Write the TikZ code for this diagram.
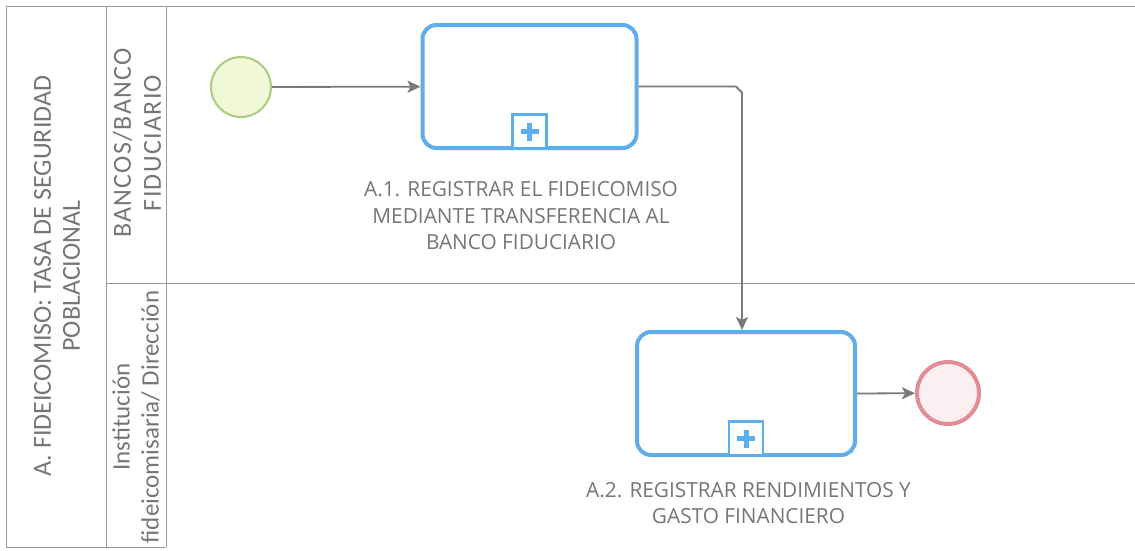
\documentclass[tikz,border=0pt]{standalone}
\usepackage{fontspec}
\setmainfont{Open Sans}
\newfontfamily\calfont{Carlito}
\newfontfamily\calwide[LetterSpace=5]{Carlito}
\usetikzlibrary{arrows.meta,calc}
\definecolor{taskblue}{HTML}{5DAEEA}
\definecolor{txtgray}{HTML}{767676}
\definecolor{linegray}{HTML}{7A7A7A}
\definecolor{framegray}{HTML}{9A9A9A}
\definecolor{startfill}{HTML}{F1F8D8}
\definecolor{startdraw}{HTML}{A9CC80}
\definecolor{endfill}{HTML}{FCEFF2}
\definecolor{enddraw}{HTML}{E28C93}
\tikzset{
  task/.style={draw=taskblue, line width=4pt, rounded corners=14pt, fill=white, inner sep=0pt},
  marker/.style={draw=taskblue, line width=2.6pt, fill=white, minimum width=34pt, minimum height=34pt, inner sep=0pt},
  startev/.style={circle, draw=startdraw, line width=2pt, fill=startfill, minimum size=60pt, inner sep=0pt},
  endev/.style={circle, draw=enddraw, line width=4pt, fill=endfill, minimum size=62pt, inner sep=0pt},
  flow/.style={draw=linegray, line width=1.8pt, -{Stealth[length=13pt,width=12pt,inset=3pt]}},
  frame/.style={draw=framegray, line width=1pt},
  lbl/.style={text=txtgray, font=\fontsize{20.8}{26.5}\selectfont, align=center},
  poollbl/.style={text=txtgray, font=\calfont\fontsize{26}{29}\selectfont, align=center, rotate=90},
  lanelbl/.style={text=txtgray, font=\calfont\fontsize{25}{29}\selectfont, align=center, rotate=90},
  lanecaps/.style={text=txtgray, font=\calwide\fontsize{26}{30}\selectfont, align=center, rotate=90}
}
\begin{document}
\begin{tikzpicture}[x=1pt,y=-1pt]
\useasboundingbox[fill=white] (0,0) rectangle (1135,550);
% frame
\draw[frame] (1135,6) -- (6,6) -- (6,547) -- (166,547);
\draw[frame] (106,6) -- (106,547);
\draw[frame] (166,6) -- (166,547);
\draw[frame] (106,283) -- (1135,283);
% labels of pool and lanes
\node[poollbl] (pool) at (57,276) {A. FIDEICOMISO: TASA DE SEGURIDAD\\POBLACIONAL};
\node[lanecaps] (lane1) at (137,143) {BANCOS/BANCO\\FIDUCIARIO};
\node[lanelbl] (lane2) at (136,417) {Institución\\fideicomisaria/ Dirección};
% events and tasks
\node[startev] (start) at (241,87) {};
\node[task, minimum width=214pt, minimum height=123pt] (t1) at (529.5,86.5) {};
\node[task, minimum width=218pt, minimum height=123pt] (t2) at (746,393.5) {};
\node[endev] (end) at (948,393) {};
% collapsed subprocess markers
\node[marker, anchor=south] (m1) at (t1.south) {};
\node[marker, anchor=south] (m2) at (t2.south) {};
\foreach \m in {m1,m2}{
  \fill[taskblue] ($(\m.center)+(-2.5,-9)$) rectangle ($(\m.center)+(2.5,9)$);
  \fill[taskblue] ($(\m.center)+(-9,-2.5)$) rectangle ($(\m.center)+(9,2.5)$);
}
% task labels
\node[lbl] (l1) at (521,216) {A.1. REGISTRAR EL FIDEICOMISO\\MEDIANTE TRANSFERENCIA AL\\BANCO FIDUCIARIO};
\node[lbl] (l2) at (748.5,503) {A.2. REGISTRAR RENDIMIENTOS Y\\GASTO FINANCIERO};
% flows
\coordinate (c1) at (742,86.5);
\draw[flow] (start) -- (t1);
\draw[flow] (t1.east) -- ($(c1)+(-6,0)$) -- ($(c1)+(0,6)$) -- (c1 |- t2.north);
\draw[flow] (t2.east) -- (end);
\end{tikzpicture}
\end{document}
